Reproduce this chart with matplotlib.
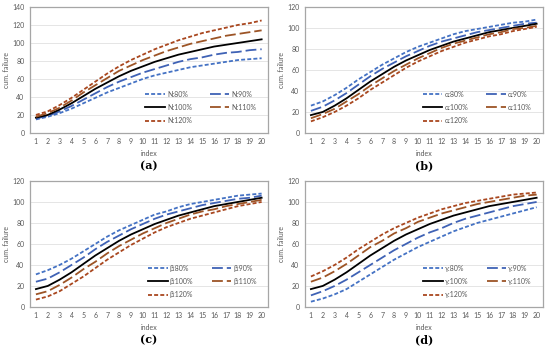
import numpy as np
import matplotlib as mpl
mpl.use('agg')
import matplotlib.pyplot as plt

plt.rcParams['font.family'] = ['Lato', 'DejaVu Sans']

index = list(range(1, 21))
pct = ['80%', '90%', '100%', '110%', '120%']

base = [17, 20, 26, 33, 41, 49, 56, 63, 69, 74, 79, 83, 87, 90, 93, 96, 98, 100, 102, 104]

# panel (a): N
n80 = [15, 18, 22, 27, 33, 39, 45, 50, 55, 60, 64, 67, 70, 73, 75, 77, 79, 81, 82, 83]
n90 = [16, 19, 24, 30, 37, 44, 51, 57, 62, 67, 71, 75, 79, 82, 84, 87, 89, 90, 92, 93]
n110 = [18, 22, 28, 36, 45, 53, 61, 69, 75, 81, 86, 91, 95, 99, 102, 105, 108, 110, 112, 114]
n120 = [20, 24, 31, 39, 48, 57, 66, 74, 81, 87, 93, 98, 103, 107, 111, 114, 117, 120, 122, 125]

# panel (b): alpha
a80 = [26, 30, 36, 43, 51, 58, 65, 71, 77, 82, 86, 90, 94, 97, 99, 101, 103, 105, 106, 108]
a90 = [21, 25, 31, 38, 46, 54, 61, 67, 73, 78, 83, 87, 90, 93, 96, 98, 100, 102, 104, 105]
a110 = [14, 18, 23, 30, 37, 45, 52, 59, 65, 71, 76, 81, 85, 88, 91, 94, 96, 99, 100, 102]
a120 = [11, 15, 20, 26, 33, 41, 48, 55, 62, 68, 73, 78, 82, 86, 89, 92, 94, 97, 99, 101]

# panel (c): beta
b80 = [31, 35, 40, 46, 53, 60, 67, 73, 78, 83, 88, 91, 95, 98, 100, 102, 104, 106, 107, 108]
b90 = [24, 27, 33, 40, 47, 55, 62, 68, 74, 79, 84, 88, 91, 94, 97, 99, 101, 103, 104, 106]
b110 = [12, 15, 21, 28, 36, 43, 51, 58, 64, 70, 75, 80, 84, 88, 91, 93, 96, 98, 100, 102]
b120 = [7, 10, 15, 22, 29, 37, 45, 52, 59, 65, 71, 76, 80, 84, 87, 90, 93, 96, 98, 100]

# panel (d): gamma
g80 = [5, 8, 12, 17, 24, 31, 38, 45, 51, 57, 62, 67, 72, 76, 80, 83, 86, 89, 92, 95]
g90 = [11, 15, 20, 26, 33, 40, 47, 54, 60, 66, 71, 75, 80, 84, 87, 90, 93, 96, 98, 100]
g110 = [24, 28, 34, 41, 49, 57, 63, 70, 75, 81, 85, 89, 92, 95, 98, 100, 102, 104, 106, 107]
g120 = [29, 34, 40, 47, 55, 62, 69, 75, 80, 85, 89, 93, 96, 99, 101, 103, 105, 107, 108, 109]

panels = [
    ('N', [n80, n90, base, n110, n120], 140, '(a)'),
    ('\u03b1', [a80, a90, base, a110, a120], 120, '(b)'),
    ('\u03b2', [b80, b90, base, b110, b120], 120, '(c)'),
    ('\u03b3', [g80, g90, base, g110, g120], 120, '(d)'),
]

styles = [
    dict(color='#4472C4', ls=(0, (2.2, 1.2))),
    dict(color='#3F62B5', ls=(0, (6, 2.2))),
    dict(color='black', ls='-'),
    dict(color='#9C5426', ls=(0, (6, 2.2))),
    dict(color='#A9471F', ls=(0, (2.2, 1.2))),
]

fig = plt.figure(figsize=(5.5, 3.48), dpi=100)
boxes = [(0.0545, 0.618), (0.5545, 0.618), (0.0545, 0.118), (0.5545, 0.118)]
w, h = 0.432, 0.362

for (sym, series, ymax, cap), (x0, y0) in zip(panels, boxes):
    ax = fig.add_axes([x0, y0, w, h])
    handles = []
    for s, p, st in zip(series, pct, styles):
        ln, = ax.plot(index, s, lw=1.3, label=sym + ':' + p, **st)
        handles.append(ln)
    ax.set_xlim(0.5, 20.5)
    ax.set_ylim(0, ymax)
    ax.set_xticks(index)
    ax.set_yticks(np.arange(0, ymax + 1, 20))
    ax.tick_params(length=0, labelsize=5, colors='#595959', pad=4)
    ax.grid(axis='y', color='#E0E0E0', lw=0.6)
    ax.set_axisbelow(True)
    for sp in ax.spines.values():
        sp.set_color('#A6A6A6')
        sp.set_linewidth(0.9)
    ax.set_ylabel('cum. failure', fontsize=5, color='#595959')
    ax.yaxis.set_label_coords(-0.082, 0.5)
    ax.set_xlabel('index', fontsize=5, color='#595959', labelpad=3)
    order = [0, 2, 4, 1, 3]
    ax.legend([handles[i] for i in order], [handles[i].get_label() for i in order],
              ncol=2, frameon=False, fontsize=5, loc='lower right',
              bbox_to_anchor=(0.98, 0.02), handlelength=2.8, columnspacing=2.6,
              labelspacing=0.9, handletextpad=0.3, labelcolor='#595959')
    fig.text(x0 + w / 2, y0 - 0.095, cap, ha='center', va='center',
             fontsize=8, fontweight='bold', family='DejaVu Serif')

fig.savefig('out.png', dpi=100)
